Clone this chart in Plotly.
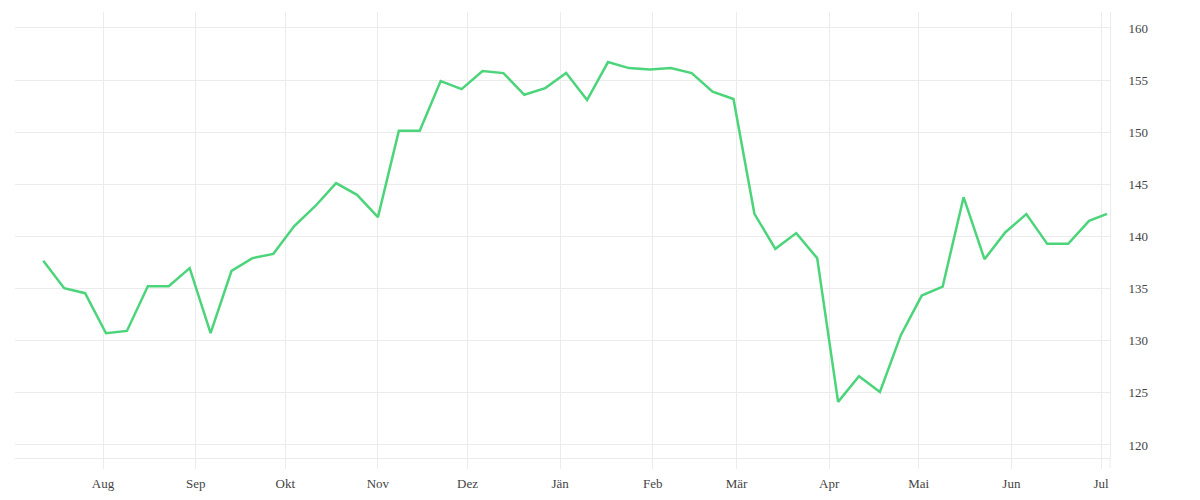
import plotly.graph_objects as go

dates = [
    "2018-07-12", "2018-07-19", "2018-07-26", "2018-08-02", "2018-08-09", "2018-08-16",
    "2018-08-23", "2018-08-30", "2018-09-06", "2018-09-13", "2018-09-20", "2018-09-27",
    "2018-10-04", "2018-10-11", "2018-10-18", "2018-10-25", "2018-11-01", "2018-11-08",
    "2018-11-15", "2018-11-22", "2018-11-29", "2018-12-06", "2018-12-13", "2018-12-20",
    "2018-12-27", "2019-01-03", "2019-01-10", "2019-01-17", "2019-01-24", "2019-01-31",
    "2019-02-07", "2019-02-14", "2019-02-21", "2019-02-28", "2019-03-07", "2019-03-14",
    "2019-03-21", "2019-03-28", "2019-04-04", "2019-04-11", "2019-04-18", "2019-04-25",
    "2019-05-02", "2019-05-09", "2019-05-16", "2019-05-23", "2019-05-30", "2019-06-06",
    "2019-06-13", "2019-06-20", "2019-06-27", "2019-07-03",
]

values = [
    137.66, 135.04, 134.56, 130.72, 130.94, 135.23,
    135.23, 136.96, 130.72, 136.70, 137.92, 138.33,
    141.00, 142.90, 145.11, 143.99, 141.85, 150.13,
    150.13, 154.90, 154.13, 155.86, 155.67, 153.59,
    154.23, 155.67, 153.08, 156.73, 156.15, 156.02,
    156.15, 155.67, 153.88, 153.18, 142.17, 138.81,
    140.32, 137.92, 124.13, 126.59, 125.09, 130.53,
    134.33, 135.19, 143.77, 137.82, 140.41, 142.14,
    139.29, 139.29, 141.50, 142.17,
]

month_ticks = [
    "2018-08-01", "2018-09-01", "2018-10-01", "2018-11-01", "2018-12-01", "2019-01-01",
    "2019-02-01", "2019-03-01", "2019-04-01", "2019-05-01", "2019-06-01", "2019-07-01",
]
month_labels = ["Aug", "Sep", "Okt", "Nov", "Dez", "Jän", "Feb", "Mär", "Apr", "Mai", "Jun", "Jul"]

y_ticks = [120, 125, 130, 135, 140, 145, 150, 155, 160]

GRID = "#ebebeb"
FONT = dict(family="Liberation Serif", size=13, color="#444444")

fig = go.Figure()
fig.add_trace(go.Scatter(
    x=dates, y=values, mode="lines",
    line=dict(color="#4cd47b", width=2.5),
    hoverinfo="x+y",
))

fig.update_layout(
    width=1200, height=500,
    margin=dict(l=7, r=98, t=4, b=50),
    paper_bgcolor="white", plot_bgcolor="white",
    showlegend=False,
    font=FONT,
)

fig.update_xaxes(
    range=["2018-07-02 13:00", "2019-07-04"],
    tickvals=month_ticks, ticktext=month_labels,
    showgrid=True, gridcolor=GRID, gridwidth=1,
    ticks="outside", ticklen=10, tickcolor=GRID, tickwidth=1,
    showline=True, linecolor=GRID, linewidth=1,
    zeroline=False, tickfont=FONT, ticklabelstandoff=3,
)

fig.update_yaxes(
    side="right",
    range=[118.75, 161.53],
    tickvals=y_ticks,
    showgrid=True, gridcolor=GRID, gridwidth=1,
    ticks="", showline=True, linecolor=GRID, linewidth=1,
    zeroline=False, tickfont=FONT, ticklabelstandoff=15,
)

# extension of the right frame line down to the tick length
fig.add_shape(type="line", xref="paper", yref="paper", x0=1, x1=1, y0=-0.0224, y1=0,
              line=dict(color=GRID, width=1))

fig.write_html("out.html")
